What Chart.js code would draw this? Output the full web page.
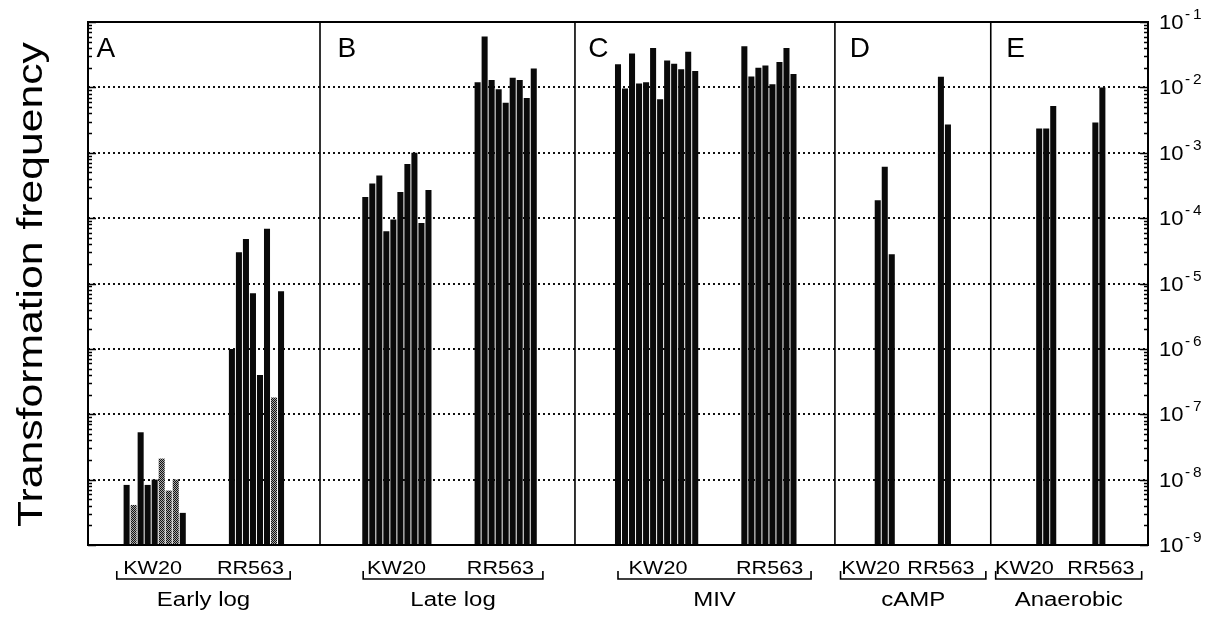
<!DOCTYPE html>
<html>
<head>
<meta charset="utf-8">
<script src="https://cdn.jsdelivr.net/npm/chart.js@4.4.1/dist/chart.umd.min.js"></script>
<style>
  html, body { margin: 0; padding: 0; background: #fff; }
  #wrap { width: 1208px; height: 617px; position: relative; }
</style>
</head>
<body>
<div id="wrap"><canvas id="c"></canvas></div>
<script>
// ---------------- DATA ----------------
const panelLetters = ['A', 'B', 'C', 'D', 'E'];
const conditions = ['Early log', 'Late log', 'MIV', 'cAMP', 'Anaerobic'];
const strains = ['KW20', 'RR563'];
const yTitle = 'Transformation frequency';
const yTickExponents = [-1, -2, -3, -4, -5, -6, -7, -8, -9];

const earlyLogKW20 = [8.3e-9, 4.1e-9, 5.3e-8, 8.3e-9, 1.0e-8, 2.1e-8, 6.8e-9, 1.0e-8, 3.1e-9];
const earlyLogKW20Stippled = [0, 1, 0, 0, 0, 1, 1, 1, 0];
const earlyLogRR563 = [1.0e-6, 3.0e-5, 4.8e-5, 7.1e-6, 4.0e-7, 6.9e-5, 1.8e-7, 7.6e-6];
const earlyLogRR563Stippled = [0, 0, 0, 0, 0, 0, 1, 0];
const lateLogKW20 = [2.1e-4, 3.4e-4, 4.5e-4, 6.3e-5, 9.5e-5, 2.5e-4, 6.7e-4, 1.0e-3, 8.4e-5, 2.7e-4];
const lateLogRR563 = [1.2e-2, 6.0e-2, 1.3e-2, 9.4e-3, 5.8e-3, 1.4e-2, 1.3e-2, 6.9e-3, 1.95e-2];
const mivKW20 = [2.26e-2, 9.6e-3, 3.3e-2, 1.15e-2, 1.2e-2, 4.0e-2, 6.6e-3, 2.57e-2, 2.29e-2, 1.9e-2, 3.5e-2, 1.78e-2];
const mivRR563 = [4.27e-2, 1.47e-2, 2.0e-2, 2.16e-2, 1.12e-2, 2.45e-2, 4.0e-2, 1.6e-2];
const campKW20 = [1.88e-4, 6.1e-4, 2.8e-5];
const campRR563 = [1.45e-2, 2.7e-3];
const anaerobicKW20 = [2.35e-3, 2.35e-3, 5.2e-3];
const anaerobicRR563 = [2.9e-3, 1.0e-2];

// ---------------- LAYOUT (slot units on the category axis) ----------------
const SLOTS = 151;
const groupList = [
  { cond: 0, strain: 0, values: earlyLogKW20, stip: earlyLogKW20Stippled, start: 5 },
  { cond: 0, strain: 1, values: earlyLogRR563, stip: earlyLogRR563Stippled, start: 20 },
  { cond: 1, strain: 0, values: lateLogKW20, start: 39 },
  { cond: 1, strain: 1, values: lateLogRR563, start: 55 },
  { cond: 2, strain: 0, values: mivKW20, start: 75 },
  { cond: 2, strain: 1, values: mivRR563, start: 93 },
  { cond: 3, strain: 0, values: campKW20, start: 112 },
  { cond: 3, strain: 1, values: campRR563, start: 121 },
  { cond: 4, strain: 0, values: anaerobicKW20, start: 135 },
  { cond: 4, strain: 1, values: anaerobicRR563, start: 143 }
];
const panelEdges = [0, 33.05, 69.37, 106.4, 128.6, SLOTS];     // slot boundaries
const letterOffset = [1.2, 2.5, 1.9, 2.1, 2.2];                // slots right of edge
const bracketSpan = [[4.1, 28.8], [39.2, 64.8], [75.5, 103.0], [107.2, 127.9], [129.3, 150.1]];
const strainLabelCenter = [[9.2, 23.15], [43.95, 58.76], [81.2, 97.1], [111.5, 121.5], [133.4, 144.3]];

// ---------------- BUILD ----------------
const labels = [];
const barData = [];
const barColors = [];
for (let i = 0; i < SLOTS; i++) { labels.push(''); barData.push(null); barColors.push('#000'); }

const pc = document.createElement('canvas');
pc.width = 2; pc.height = 2;
const pctx = pc.getContext('2d');
pctx.fillStyle = '#a8a8a8'; pctx.fillRect(0, 0, 2, 2);
pctx.fillStyle = '#111'; pctx.fillRect(0, 0, 1, 1); pctx.fillRect(1, 1, 1, 1);
const stipple = pctx.createPattern(pc, 'repeat');

groupList.forEach(g => {
  g.values.forEach((v, k) => {
    const idx = g.start + k;
    labels[idx] = conditions[g.cond] + ' ' + strains[g.strain] + ' #' + (k + 1);
    barData[idx] = v;
    barColors[idx] = (g.stip && g.stip[k]) ? stipple : '#0a0a0a';
  });
});

function stretchText(ctx, text, x, y, align, stretch) {
  ctx.save();
  ctx.translate(x, y);
  ctx.scale(stretch, 1);
  ctx.textAlign = align;
  ctx.fillText(text, 0, 0);
  ctx.restore();
}

const decor = {
  id: 'decor',
  beforeDatasetsDraw(chart) {
    const { ctx, chartArea: a } = chart;
    const ys = chart.scales.y;
    ctx.save();
    ctx.strokeStyle = '#111';
    ctx.lineWidth = 2;
    ctx.setLineDash([2, 3]);
    for (let e = -8; e <= -2; e++) {
      const y = Math.round(ys.getPixelForValue(Math.pow(10, e)));
      ctx.beginPath();
      ctx.moveTo(a.left, y);
      ctx.lineTo(a.right, y);
      ctx.stroke();
    }
    ctx.restore();
  },
  afterDatasetsDraw(chart) {
    const { ctx, chartArea: a } = chart;
    const ys = chart.scales.y;
    const slotW = (a.right - a.left) / SLOTS;
    const sx = s => a.left + s * slotW;
    ctx.save();
    ctx.strokeStyle = '#000';
    ctx.fillStyle = '#000';

    // frame
    ctx.lineWidth = 2;
    ctx.strokeRect(a.left, a.top, a.right - a.left, a.bottom - a.top);

    // panel separators
    ctx.lineWidth = 1.6;
    for (let p = 1; p < panelEdges.length - 1; p++) {
      const x = sx(panelEdges[p]);
      ctx.beginPath(); ctx.moveTo(x, a.top); ctx.lineTo(x, a.bottom); ctx.stroke();
    }

    // log ticks on both axes
    ctx.lineWidth = 1.4;
    for (let e = -9; e <= -1; e++) {
      for (let m = 1; m <= 9; m++) {
        if (e === -1 && m > 1) break;
        const y = Math.round(ys.getPixelForValue(m * Math.pow(10, e))) + 0.5;
        const len = m === 1 ? 8 : 4;
        ctx.beginPath();
        ctx.moveTo(a.left, y); ctx.lineTo(a.left + len, y);
        ctx.moveTo(a.right, y); ctx.lineTo(a.right - len, y);
        ctx.stroke();
      }
    }

    // right tick labels 10^n
    ctx.textBaseline = 'alphabetic';
    yTickExponents.forEach(e => {
      const y = ys.getPixelForValue(Math.pow(10, e));
      ctx.font = '20px "Liberation Sans", Arial, sans-serif';
      stretchText(ctx, '10', a.right + 11, y + 7, 'left', 1.1);
      ctx.font = '14px "Liberation Sans", Arial, sans-serif';
      stretchText(ctx, '-', a.right + 37, y - 3, 'left', 1.1);
      stretchText(ctx, String(-e), a.right + 45, y - 3, 'left', 1.1);
    });

    // panel letters
    ctx.font = '28px "Liberation Sans", Arial, sans-serif';
    panelLetters.forEach((L, p) => {
      ctx.textAlign = 'left';
      ctx.fillText(L, sx(panelEdges[p] + letterOffset[p]), a.top + 35);
    });

    // brackets and labels below
    const baseY = a.bottom;
    ctx.lineWidth = 1.6;
    conditions.forEach((c, p) => {
      const x0 = sx(bracketSpan[p][0]);
      const x1 = sx(bracketSpan[p][1]);
      ctx.beginPath();
      ctx.moveTo(x0, baseY + 26); ctx.lineTo(x0, baseY + 34);
      ctx.lineTo(x1, baseY + 34); ctx.lineTo(x1, baseY + 26);
      ctx.stroke();
      ctx.font = '18px "Liberation Sans", Arial, sans-serif';
      strains.forEach((s, k) => {
        stretchText(ctx, s, sx(strainLabelCenter[p][k]), baseY + 29, 'center', 1.2);
      });
      ctx.font = '20px "Liberation Sans", Arial, sans-serif';
      stretchText(ctx, c, (x0 + x1) / 2, baseY + 61, 'center', 1.2);
    });

    // y title
    ctx.save();
    ctx.translate(42, (a.top + a.bottom) / 2 + 1);
    ctx.rotate(-Math.PI / 2);
    ctx.scale(1.22, 1);
    ctx.font = '35px "Liberation Sans", Arial, sans-serif';
    ctx.textAlign = 'center';
    ctx.fillText(yTitle, 0, 0);
    ctx.restore();

    ctx.restore();
  }
};

new Chart(document.getElementById('c'), {
  type: 'bar',
  data: {
    labels: labels,
    datasets: [{
      data: barData,
      backgroundColor: barColors,
      borderWidth: 0,
      barPercentage: 0.86,
      categoryPercentage: 1.0
    }]
  },
  options: {
    responsive: true,
    maintainAspectRatio: false,
    animation: false,
    layout: { padding: { left: 88, right: 60, top: 22, bottom: 72 } },
    plugins: { legend: { display: false }, tooltip: { enabled: false }, title: { display: false } },
    scales: {
      x: { type: 'category', display: false, offset: true, grid: { display: false } },
      y: { type: 'logarithmic', display: false, min: 1e-9, max: 1e-1 }
    }
  },
  plugins: [decor]
});
</script>
</body>
</html>
